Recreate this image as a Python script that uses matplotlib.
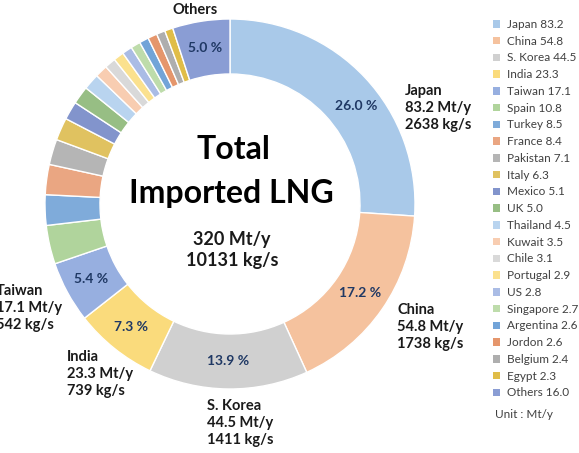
import numpy as np
import matplotlib
matplotlib.use("Agg")
import matplotlib.pyplot as plt
from matplotlib.patches import Patch

countries = ["Japan", "China", "S. Korea", "India", "Taiwan", "Spain", "Turkey", "France",
             "Pakistan", "Italy", "Mexico", "UK", "Thailand", "Kuwait", "Chile", "Portugal",
             "US", "Singapore", "Argentina", "Jordon", "Belgium", "Egypt", "Others"]
imports_mty = [83.2, 54.8, 44.5, 23.3, 17.1, 10.8, 8.5, 8.4, 7.1, 6.3, 5.1, 5.0, 4.5, 3.5,
               3.1, 2.9, 2.8, 2.7, 2.6, 2.6, 2.4, 2.3, 16.0]
colors = ["#A9C9E9", "#F5C29E", "#D0D0D0", "#FADB7C", "#97AFE0", "#B0D49C", "#7FABDA",
          "#EAA682", "#B5B5B5", "#E0C260", "#8294CC", "#97BE84", "#B9D4EF", "#F8CDB1",
          "#D9D9D9", "#FBE18E", "#AABCE5", "#BEDCAB", "#72A4D8", "#E5966C", "#AEAEAE",
          "#E0BD48", "#8A9DD4"]
pct_labels = {"Japan": "26.0 %", "China": "17.2 %", "S. Korea": "13.9 %", "India": "7.3 %",
              "Taiwan": "5.4 %", "Others": "5.0 %"}
outer_labels = {"Japan": "Japan\n83.2 Mt/y\n2638 kg/s",
                "China": "China\n54.8 Mt/y\n1738 kg/s",
                "S. Korea": "S. Korea\n44.5 Mt/y\n1411 kg/s",
                "India": "India\n23.3 Mt/y\n739 kg/s",
                "Taiwan": "Taiwan\n17.1 Mt/y\n542 kg/s",
                "Others": "Others"}
total_text = ["Total", "Imported LNG"]
total_values = "320 Mt/y\n10131 kg/s"
unit_text = "Unit : Mt/y"

plt.rcParams['font.family'] = ['Lato', 'DejaVu Sans']

W, H = 579, 453
fig = plt.figure(figsize=(W / 100, H / 100), dpi=100)
cx, cy, R = 230, 204, 185
ax = fig.add_axes([(cx - R) / W, (H - cy - R) / H, 2 * R / W, 2 * R / H])

ring = 55 / 185
wedges, _ = ax.pie(imports_mty, colors=colors, startangle=90, counterclock=False,
                   radius=1, wedgeprops=dict(width=ring, edgecolor='white', linewidth=1.0))
ax.set_xlim(-1, 1)
ax.set_ylim(-1, 1)
ax.axis('off')

pct_color = "#1F3864"
rmid = 1 - ring / 2
for w, name in zip(wedges, countries):
    if name in pct_labels:
        ang = np.deg2rad((w.theta1 + w.theta2) / 2)
        dx, dy = 0, 0
        if name == "Japan":
            dx, dy = 0.06, -0.05
        ax.text(rmid * np.cos(ang) + dx, rmid * np.sin(ang) + dy, pct_labels[name],
                ha='center', va='center', fontsize=10, fontweight='bold', color=pct_color)

lab_pos = {"Japan": (0.946, 0.519, 'left'),
           "China": (0.903, -0.665, 'left'),
           "S. Korea": (-0.124, -1.184, 'left'),
           "India": (-0.881, -0.919, 'left'),
           "Taiwan": (-1.265, -0.562, 'left'),
           "Others": (-0.189, 1.049, 'center')}
for name, (x, y, ha) in lab_pos.items():
    ax.text(x, y, outer_labels[name], ha=ha, va='center', fontsize=10.5, fontweight='bold',
            color='#1A1A1A', linespacing=1.3)

ax.text(0.02, 0.297, total_text[0], ha='center', va='center', fontsize=23,
        fontweight='bold', color='black')
ax.text(0.01, 0.059, total_text[1], ha='center', va='center', fontsize=23,
        fontweight='bold', color='black')
ax.text(0.01, -0.25, total_values, ha='center', va='center', fontsize=13,
        fontweight='bold', color='#1A1A1A', linespacing=1.25)

handles = [Patch(facecolor=c, edgecolor='none') for c in colors]
labels = [f"{n} {v:.1f}" for n, v in zip(countries, imports_mty)]
leg = fig.legend(handles, labels, loc='upper left', bbox_to_anchor=(493 / W, 1 - 19 / H),
                 frameon=False, fontsize=8.5, handlelength=0.6, handleheight=0.6,
                 handletextpad=0.6, labelspacing=0.487, borderpad=0, borderaxespad=0)
for t in leg.get_texts():
    t.set_color('#404040')
fig.text(495 / W, 1 - 415 / H, unit_text, ha='left', va='center', fontsize=8.5,
         color='#404040')

fig.savefig("out.png", dpi=100)
